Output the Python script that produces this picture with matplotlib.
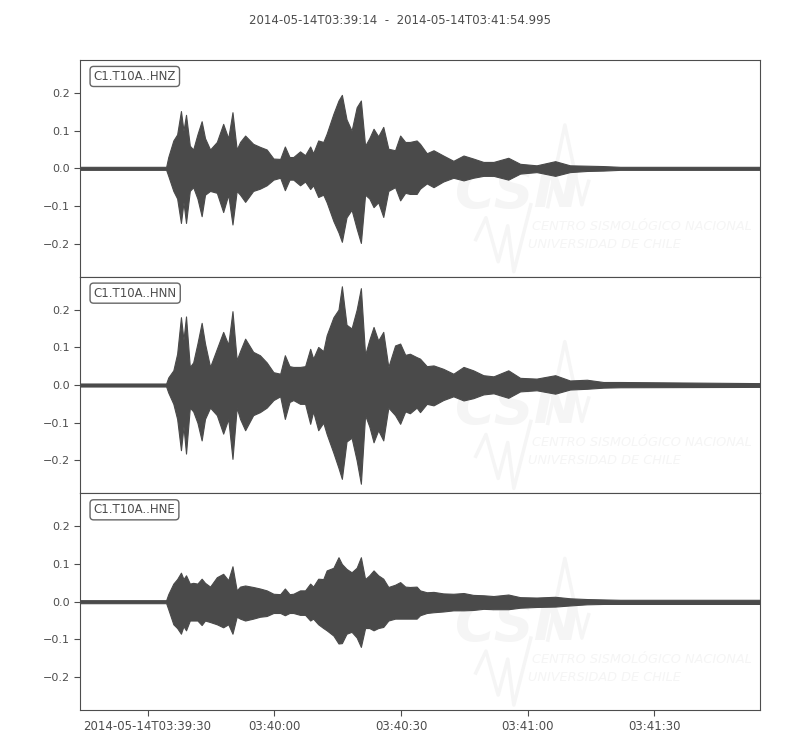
import datetime as dt
import matplotlib
matplotlib.use("Agg")
import matplotlib.pyplot as plt
import matplotlib.dates as mdates
import numpy as np

# seconds after 2014-05-14T03:39:14, shared by the three channels
seconds = [0, 20.4, 20.9, 22.1, 23.0, 23.9, 24.5, 25.1, 26.0, 26.8,
           27.8, 28.8, 29.6, 30.8, 32.4, 33.9, 35.1, 36.1, 37.1, 37.9,
           39.1, 41.0, 42.6, 44.2, 45.8, 47.4, 48.5, 49.6, 50.5, 52.1,
           53.3, 54.5, 55.2, 56.4, 57.6, 58.4, 60.0, 61.2, 62.0, 63.1,
           64.3, 65.5, 66.5, 67.5, 68.5, 69.5, 70.6, 71.8, 73.0, 74.6,
           75.8, 77.0, 78.1, 79.7, 80.5, 82.1, 83.7, 86.0, 88.4, 90.8,
           93.1, 95.5, 97.9, 101.4, 104.2, 108.1, 112.5, 116.0, 120.0, 123.9,
           127.9, 160.995]

# upper / lower envelope of each trace
hnz_up = [0.004, 0.004, 0.03, 0.074, 0.09, 0.152, 0.10, 0.142, 0.06, 0.05,
          0.09, 0.125, 0.08, 0.05, 0.07, 0.118, 0.08, 0.149, 0.05, 0.07,
          0.087, 0.065, 0.057, 0.05, 0.026, 0.025, 0.058, 0.03, 0.03, 0.045,
          0.035, 0.058, 0.04, 0.074, 0.07, 0.092, 0.145, 0.18, 0.195, 0.13,
          0.10, 0.162, 0.18, 0.06, 0.08, 0.105, 0.085, 0.11, 0.052, 0.048,
          0.087, 0.07, 0.07, 0.074, 0.065, 0.04, 0.048, 0.034, 0.02, 0.034,
          0.026, 0.017, 0.017, 0.028, 0.012, 0.008, 0.019, 0.008, 0.007, 0.006,
          0.004, 0.004]
hnz_lo = [-0.004, -0.004, -0.02, -0.06, -0.08, -0.145, -0.09, -0.145, -0.06, -0.05,
          -0.08, -0.127, -0.07, -0.06, -0.065, -0.116, -0.07, -0.149, -0.06, -0.07,
          -0.089, -0.06, -0.054, -0.045, -0.03, -0.025, -0.058, -0.03, -0.03, -0.045,
          -0.035, -0.055, -0.045, -0.076, -0.07, -0.09, -0.14, -0.17, -0.195, -0.13,
          -0.11, -0.16, -0.198, -0.07, -0.08, -0.103, -0.09, -0.129, -0.06, -0.05,
          -0.085, -0.065, -0.068, -0.068, -0.054, -0.04, -0.05, -0.035, -0.025, -0.032,
          -0.025, -0.02, -0.02, -0.03, -0.014, -0.01, -0.02, -0.01, -0.007, -0.006,
          -0.004, -0.004]

hnn_up = [0.004, 0.004, 0.02, 0.039, 0.083, 0.18, 0.12, 0.182, 0.048, 0.06,
          0.11, 0.165, 0.11, 0.048, 0.096, 0.141, 0.107, 0.196, 0.066, 0.09,
          0.123, 0.088, 0.079, 0.06, 0.034, 0.03, 0.079, 0.05, 0.048, 0.048,
          0.05, 0.096, 0.07, 0.101, 0.09, 0.132, 0.18, 0.20, 0.262, 0.16,
          0.15, 0.20, 0.257, 0.08, 0.12, 0.154, 0.118, 0.141, 0.048, 0.105,
          0.11, 0.08, 0.083, 0.074, 0.07, 0.05, 0.052, 0.043, 0.03, 0.048,
          0.039, 0.026, 0.023, 0.039, 0.019, 0.017, 0.026, 0.012, 0.014, 0.008,
          0.008, 0.005]
hnn_lo = [-0.004, -0.004, -0.02, -0.05, -0.09, -0.173, -0.11, -0.182, -0.06, -0.07,
          -0.10, -0.147, -0.09, -0.06, -0.08, -0.129, -0.09, -0.196, -0.06, -0.09,
          -0.12, -0.08, -0.072, -0.06, -0.04, -0.03, -0.09, -0.045, -0.04, -0.05,
          -0.05, -0.103, -0.07, -0.12, -0.10, -0.13, -0.18, -0.22, -0.249, -0.15,
          -0.14, -0.20, -0.262, -0.08, -0.11, -0.152, -0.12, -0.147, -0.06, -0.08,
          -0.103, -0.07, -0.075, -0.06, -0.072, -0.05, -0.054, -0.04, -0.03, -0.041,
          -0.035, -0.025, -0.022, -0.034, -0.017, -0.014, -0.023, -0.012, -0.01, -0.007,
          -0.006, -0.005]

hne_up = [0.004, 0.004, 0.02, 0.048, 0.06, 0.077, 0.06, 0.07, 0.048, 0.05,
          0.048, 0.061, 0.05, 0.04, 0.065, 0.074, 0.057, 0.094, 0.03, 0.04,
          0.043, 0.039, 0.035, 0.03, 0.021, 0.02, 0.035, 0.02, 0.021, 0.03,
          0.03, 0.048, 0.04, 0.061, 0.06, 0.083, 0.09, 0.118, 0.10, 0.087,
          0.078, 0.09, 0.118, 0.06, 0.07, 0.083, 0.07, 0.061, 0.039, 0.045,
          0.052, 0.04, 0.039, 0.04, 0.03, 0.025, 0.026, 0.022, 0.021, 0.023,
          0.018, 0.017, 0.015, 0.019, 0.012, 0.011, 0.013, 0.009, 0.007, 0.006,
          0.005, 0.005]
hne_lo = [-0.004, -0.004, -0.02, -0.06, -0.07, -0.085, -0.065, -0.076, -0.05, -0.05,
          -0.05, -0.062, -0.05, -0.054, -0.06, -0.068, -0.06, -0.085, -0.04, -0.045,
          -0.05, -0.045, -0.04, -0.038, -0.03, -0.03, -0.036, -0.03, -0.03, -0.035,
          -0.035, -0.05, -0.045, -0.06, -0.07, -0.076, -0.09, -0.111, -0.11, -0.085,
          -0.08, -0.095, -0.12, -0.07, -0.07, -0.076, -0.07, -0.067, -0.05, -0.045,
          -0.045, -0.045, -0.045, -0.045, -0.036, -0.03, -0.028, -0.026, -0.023, -0.023,
          -0.022, -0.019, -0.02, -0.02, -0.016, -0.014, -0.013, -0.01, -0.007, -0.006,
          -0.006, -0.006]

channels = ["C1.T10A..HNZ", "C1.T10A..HNN", "C1.T10A..HNE"]
uppers = [hnz_up, hnn_up, hne_up]
lowers = [hnz_lo, hnn_lo, hne_lo]

start = dt.datetime(2014, 5, 14, 3, 39, 14)
title = "2014-05-14T03:39:14  -  2014-05-14T03:41:54.995"
tick_times = ["03:39:30", "03:40:00", "03:40:30", "03:41:00", "03:41:30"]
tick_labels = ["2014-05-14T03:39:30", "03:40:00", "03:40:30", "03:41:00", "03:41:30"]
yticks = [-0.2, -0.1, 0.0, 0.1, 0.2]

trace_col = "#4a4a4a"
text_col = "#4d4d4d"
mark_col = "#f5f5f5"

times = [start + dt.timedelta(seconds=s) for s in seconds]
xnum = mdates.date2num(times)

fig, axes = plt.subplots(3, 1, figsize=(8, 7.5), dpi=100, sharex=True, sharey=True)
fig.subplots_adjust(left=0.1, right=0.95, top=0.92, bottom=0.0533, hspace=0)

for ax, name, up, lo in zip(axes, channels, uppers, lowers):
    # faint CSN watermark
    ax.text(0.551, 0.323, "CSN", transform=ax.transAxes, fontsize=40,
            fontweight="bold", style="italic", color=mark_col, va="baseline",
            zorder=0)
    ax.plot([0.688, 0.713, 0.738, 0.748], [0.323, 0.70, 0.332, 0.44],
            transform=ax.transAxes, color=mark_col, lw=2.5, zorder=0)
    ax.plot([0.582, 0.597, 0.615, 0.629, 0.638, 0.663],
            [0.171, 0.272, 0.069, 0.235, 0.023, 0.332],
            transform=ax.transAxes, color=mark_col, lw=2.5, zorder=0)
    ax.text(0.665, 0.217, "CENTRO SISMOLÓGICO NACIONAL", transform=ax.transAxes,
            fontsize=9.3, style="italic", color=mark_col, zorder=0, clip_on=True)
    ax.text(0.659, 0.134, "UNIVERSIDAD DE CHILE", transform=ax.transAxes,
            fontsize=9.3, style="italic", color=mark_col, zorder=0, clip_on=True)

    ax.fill_between(xnum, lo, up, color=trace_col, lw=0.8, zorder=2)

    ax.text(0.02, 0.924, name, transform=ax.transAxes, fontsize=8.5,
            color=text_col, ha="left", va="center", zorder=3,
            bbox=dict(boxstyle="round,pad=0.3", fc="white", ec="#666666", lw=1))

    for sp in ax.spines.values():
        sp.set_color(text_col)
    ax.set_yticks(yticks)
    ax.tick_params(axis="y", direction="out", length=4, colors=text_col, labelsize=8)
    ax.tick_params(axis="x", bottom=False, labelbottom=False)

ax = axes[-1]
ax.set_xlim(mdates.date2num(start), mdates.date2num(start + dt.timedelta(seconds=160.995)))
ax.set_ylim(-0.2875, 0.2875)
tick_pos = [mdates.date2num(dt.datetime.strptime("2014-05-14 " + t, "%Y-%m-%d %H:%M:%S"))
            for t in tick_times]
ax.set_xticks(tick_pos)
ax.set_xticklabels(tick_labels, fontsize=8.5)
ax.tick_params(axis="x", bottom=True, labelbottom=True, direction="out",
               length=4, colors=text_col)

fig.text(0.5, 1 - 20 / 750, title, ha="center", va="center", fontsize=8.5,
         color=text_col)

fig.savefig("out.png", dpi=100)
